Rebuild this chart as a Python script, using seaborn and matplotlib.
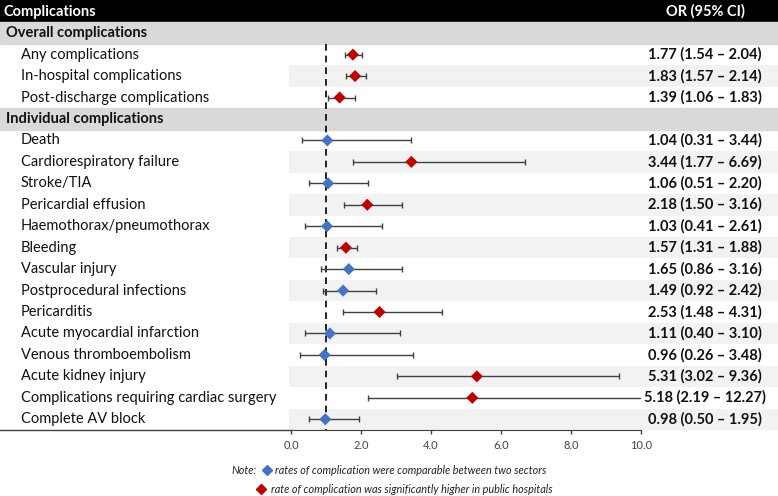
import numpy as np
import pandas as pd
import matplotlib
matplotlib.use("Agg")
from matplotlib import pyplot as plt
import seaborn as sns

overall_names = ["Any complications", "In-hospital complications", "Post-discharge complications"]
overall_or = [1.77, 1.83, 1.39]
overall_low = [1.54, 1.57, 1.06]
overall_high = [2.04, 2.14, 1.83]
overall_group = ["higher", "higher", "higher"]

individual_names = ["Death", "Cardiorespiratory failure", "Stroke/TIA", "Pericardial effusion",
                    "Haemothorax/pneumothorax", "Bleeding", "Vascular injury",
                    "Postprocedural infections", "Pericarditis", "Acute myocardial infarction",
                    "Venous thromboembolism", "Acute kidney injury",
                    "Complications requiring cardiac surgery", "Complete AV block"]
individual_or = [1.04, 3.44, 1.06, 2.18, 1.03, 1.57, 1.65, 1.49, 2.53, 1.11, 0.96, 5.31, 5.18, 0.98]
individual_low = [0.31, 1.77, 0.51, 1.50, 0.41, 1.31, 0.86, 0.92, 1.48, 0.40, 0.26, 3.02, 2.19, 0.50]
individual_high = [3.44, 6.69, 2.20, 3.16, 2.61, 1.88, 3.16, 2.42, 4.31, 3.10, 3.48, 9.36, 12.27, 1.95]
individual_group = ["same", "higher", "same", "higher", "same", "higher", "same",
                    "same", "higher", "same", "same", "higher", "higher", "same"]

section_titles = ["Overall complications", "Individual complications"]
x_ticks = [0, 2, 4, 6, 8, 10]

colors = {"same": "#4472c4", "higher": "#c00000"}

# rows: 0 header, 1 section, 2-4 overall, 5 section, 6-19 individual
df = pd.DataFrame({
    "name": overall_names + individual_names,
    "or": overall_or + individual_or,
    "low": overall_low + individual_low,
    "high": overall_high + individual_high,
    "group": overall_group + individual_group,
})
df["row"] = list(range(2, 5)) + list(range(6, 20))
section_rows = [1, 5]

W, H = 778, 496
top, rh = 1.0, 21.45
x0, x1 = 291, 641
bottom = top + 20 * rh

fig = plt.figure(figsize=(W / 100, H / 100), dpi=100)
plt.rcParams["font.family"] = ["Lato", "DejaVu Sans"]

bg = fig.add_axes([0, 0, 1, 1])
bg.set_xlim(0, W)
bg.set_ylim(H, 0)
bg.axis("off")


def row_y(r):
    return top + (r + 0.5) * rh


# header and section bands
bg.axhspan(0, top + rh, color="black", zorder=0)
for r in section_rows:
    bg.axhspan(top + r * rh, top + (r + 1) * rh, color="#d9d9d9", zorder=0)
for r in df["row"]:
    if r % 2 == 1:
        bg.fill_between([x0 - 2, W], top + r * rh, top + (r + 1) * rh, color="#f2f2f2", lw=0, zorder=0)

bg.text(4, row_y(0), "Complications", color="white", weight="bold", fontsize=10.5, va="center")
bg.text(705, row_y(0), "OR (95% CI)", color="white", weight="bold", fontsize=10.5, va="center", ha="center")
for r, t in zip(section_rows, section_titles):
    bg.text(6, row_y(r), t, weight="bold", fontsize=10.5, va="center", color="#111111")

for _, d in df.iterrows():
    bg.text(21, row_y(d["row"]), d["name"], fontsize=10.5, va="center", color="#111111")
    bg.text(705, row_y(d["row"]), f"{d['or']:.2f} ({d['low']:.2f} \u2013 {d['high']:.2f})",
            fontsize=10.5, weight="bold", va="center", ha="center", color="#111111")

bg.plot([0, x0], [bottom, bottom], color="#404040", lw=1)

# note / legend
bg.text(231, 470, "Note:", fontsize=7.8, style="italic", va="center", color="#222222")
bg.plot(267, 469.5, marker="D", ms=5.5, color=colors["same"], ls="none")
bg.text(275, 470, "rates of complication were comparable between two sectors", fontsize=7.8,
        style="italic", va="center", color="#222222")
bg.plot(261, 489, marker="D", ms=5.5, color=colors["higher"], ls="none")
bg.text(271, 489.5, "rate of complication was significantly higher in public hospitals", fontsize=7.8,
        style="italic", va="center", color="#222222")

# forest plot
ax = fig.add_axes([x0 / W, (H - bottom) / H, (x1 - x0) / W, (bottom - top) / H])
ax.patch.set_alpha(0)
ax.set_xlim(0, 10)
ax.set_ylim(19.5, -0.5)

ax.vlines(1, 1.5, 19.5, colors="black", linestyles=(0, (4, 3)), lw=1.2, zorder=1)

hi_clip = df["high"].clip(upper=10)
ax.hlines(df["row"], df["low"], hi_clip, colors="#404040", lw=1, zorder=2)
ax.plot(df["low"], df["row"], marker="|", ms=5, mew=1, color="#404040", ls="none", zorder=2)
capped = df[df["high"] <= 10]
ax.plot(capped["high"], capped["row"], marker="|", ms=5, mew=1, color="#404040", ls="none", zorder=2)

sns.scatterplot(data=df, x="or", y="row", hue="group", palette=colors, marker="D", s=38,
                edgecolor="none", legend=False, ax=ax, zorder=3)

for s in ["top", "left", "right"]:
    ax.spines[s].set_visible(False)
ax.spines["bottom"].set_color("#404040")
ax.set_xticks(x_ticks)
ax.set_xticklabels([f"{t:.1f}" for t in x_ticks], fontsize=8, color="#444444")
ax.tick_params(axis="x", direction="out", length=3, width=1, color="#404040", pad=4)
ax.set_yticks([])
ax.set_xlabel("")
ax.set_ylabel("")

fig.savefig("out.png", dpi=100)
